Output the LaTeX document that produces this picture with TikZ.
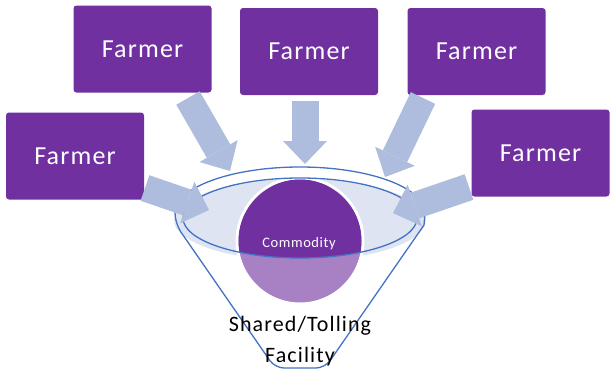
\documentclass[tikz,border=0pt]{standalone}
\usepackage{fontspec}
\setmainfont{Carlito}
\usepackage{tikz}
\usetikzlibrary{shapes,arrows.meta}
\definecolor{farmpurple}{RGB}{112,48,160}
\definecolor{lightpurple}{RGB}{168,128,196}
\definecolor{feedblue}{RGB}{174,189,221}
\definecolor{rimblue}{RGB}{68,114,196}
\definecolor{bowlfill}{RGB}{223,228,242}
\tikzstyle{farmer} = [fill=farmpurple, rectangle, rounded corners=3pt, text=white,
    minimum width=138pt, minimum height=87pt,
    font=\fontsize{26}{30}\selectfont\addfontfeatures{LetterSpace=4.5}]
\tikzstyle{feed} = [draw=feedblue, line width=27pt,
    -{Triangle[width=44pt,length=23pt,line width=0pt]}]
\tikzstyle{rim} = [draw=rimblue, line width=1.3pt]

\begin{document}
\begin{tikzpicture}[x=1pt, y=-1pt, node distance=167.5pt]
    \useasboundingbox (0,0) rectangle (610,370);
    % We start with the funnel and the commodity
    \fill [bowlfill] (300,220) ellipse [x radius=126pt, y radius=41pt];
    \node [circle, fill=lightpurple, draw=white, line width=3pt, minimum size=126pt,
        inner sep=0pt] (commodity) at (300,241) {};
    \begin{scope}
        \clip (300,218) ellipse [x radius=117pt, y radius=40pt];
        \fill [farmpurple] (commodity.center) circle [radius=61.5pt];
    \end{scope}
    \draw [rim] (300,218) ellipse [x radius=117pt, y radius=40pt];
    \draw [rim] (175,213) arc [start angle=180, end angle=0, x radius=125pt, y radius=46pt]
        -- (424,225) [rounded corners=9pt] -- (325,368) -- (275,368) -- (176,225)
        [sharp corners] -- cycle;
    \node [text=white, font=\fontsize{14.5}{17}\selectfont\addfontfeatures{LetterSpace=4},
        anchor=base] (goods) at (299,247.5) {Commodity};
    \node [align=center, font=\fontsize{22}{31}\selectfont\addfontfeatures{LetterSpace=5}]
        (facility) at (300,341) {Shared/Tolling\\[0.5pt]Facility};
    % Then the farmers
    \node [farmer] (farmer1) at (142.5,49) {Farmer};
    \node [farmer] (farmer2) at (309,51.5) {Farmer};
    \node [farmer, right of=farmer2] (farmer3) {Farmer};
    \node [farmer] (farmerL) at (75,156) {Farmer};
    \node [farmer] (farmerR) at (540.5,153) {Farmer};
    % Where the deliveries leave and land
    \coordinate (out1) at (188,98);
    \coordinate (in1) at (230,171);
    \coordinate (out2) at (305,101);
    \coordinate (in2) at (305,164);
    \coordinate (out3) at (423,98);
    \coordinate (in3) at (385,177);
    \coordinate (outL) at (145,188);
    \coordinate (inL) at (209,210);
    \coordinate (outR) at (469,187);
    \coordinate (inR) at (393,213);
    % We draw the deliveries into the funnel
    \draw [feed] (out1) -- (in1);
    \draw [feed] (out2) -- (in2);
    \draw [feed] (out3) -- (in3);
    \draw [feed] (outL) -- (inL);
    \draw [feed] (outR) -- (inR);
\end{tikzpicture}
\end{document}
